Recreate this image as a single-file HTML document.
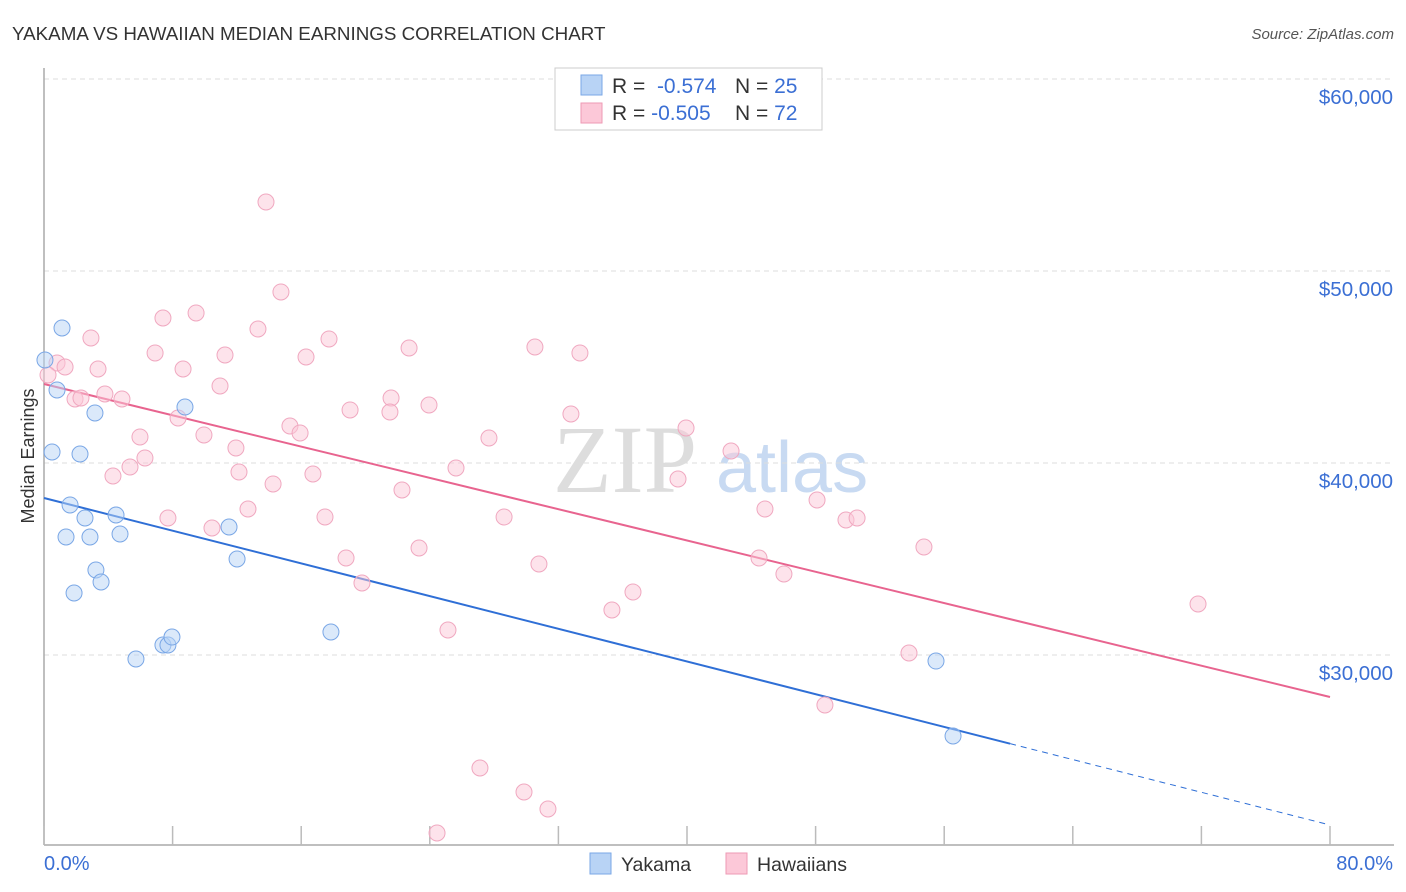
<!DOCTYPE html>
<html><head><meta charset="utf-8"><style>
body{margin:0;background:#fff;width:1406px;height:892px;overflow:hidden;font-family:"Liberation Sans",sans-serif}
svg{position:absolute;left:0;top:0}
</style></head><body>
<svg width="1406" height="892" id="chart">
<text x="12" y="40" font-size="18.8" fill="#333">YAKAMA VS HAWAIIAN MEDIAN EARNINGS CORRELATION CHART</text>
<text x="1394" y="39" font-size="15" fill="#555" font-style="italic" text-anchor="end">Source: ZipAtlas.com</text>
<text transform="translate(34,456) rotate(-90)" font-size="18" fill="#333" text-anchor="middle">Median Earnings</text>
<g>
<text x="553" y="492" font-size="96" font-family="Liberation Serif" fill="#ddd">ZIP</text>
<text x="716" y="492" font-size="72" fill="#c8daf2">atlas</text>
</g>
<g id="grid"></g><g id="axes"></g><g id="lines"></g><g id="pts"></g>
<g>
<rect x="555" y="68" width="267" height="62" fill="#fff" stroke="#ccc"/>
<rect x="581" y="75" width="21" height="20" fill="#b8d3f5" stroke="#7aa7e6"/>
<rect x="581" y="103" width="21" height="20" fill="#fcc8d8" stroke="#ee9ab4"/>
<text x="612" y="93" font-size="21" fill="#333">R = <tspan fill="#3b6fd4">&#160;-0.574</tspan><tspan x="735">N = </tspan><tspan fill="#3b6fd4">25</tspan></text>
<text x="612" y="120" font-size="21" fill="#333">R = <tspan fill="#3b6fd4">-0.505</tspan><tspan x="735">N = </tspan><tspan fill="#3b6fd4">72</tspan></text>
</g>
<g>
<rect x="590" y="853" width="21" height="21" fill="#b8d3f5" stroke="#7aa7e6"/>
<text x="621" y="871" font-size="19.5" fill="#333">Yakama</text>
<rect x="726" y="853" width="21" height="21" fill="#fcc8d8" stroke="#ee9ab4"/>
<text x="757" y="871" font-size="19.5" fill="#333">Hawaiians</text>
</g>
<text x="44" y="870" font-size="20" fill="#3b6fd4">0.0%</text>
<text x="1393" y="870" font-size="20" fill="#3b6fd4" text-anchor="end">80.0%</text>
</svg>
<script>
const yTicks=[60000,50000,40000,30000];
const yTickLabels=["$60,000","$50,000","$40,000","$30,000"];
const xTicks=[0,8,16,24,32,40,48,56,64,72,80];
const yakamaX=[0.06,1.12,0.81,3.17,0.5,2.24,1.62,2.55,4.48,1.37,2.86,4.73,3.23,3.55,1.87,5.72,7.4,7.71,7.96,8.77,11.51,12.01,17.85,55.49,56.55];
const yakamaY=[45365,47031,43802,42604,40573,40469,37813,37135,37292,36146,36146,36302,34427,33802,33229,29792,30521,30521,30937,42917,36667,35000,31198,29687,25781];
const hawX=[13.81,14.74,9.46,7.40,13.31,2.92,17.73,6.91,11.26,16.30,22.71,30.54,33.34,0.81,1.31,3.36,8.65,10.95,3.79,4.85,1.93,2.30,21.59,19.04,21.52,23.95,32.78,8.34,9.95,5.97,15.30,15.93,27.68,39.94,11.94,42.74,6.28,5.35,4.29,12.13,16.73,25.63,14.25,22.27,39.44,48.09,44.85,12.69,7.71,17.48,28.62,10.45,49.89,50.58,54.74,23.33,18.79,30.79,44.48,46.03,19.78,36.64,35.33,71.79,25.13,53.81,48.58,27.12,29.86,31.35,24.45,0.25];
const hawY=[53594,48907,47813,47552,46979,46511,46459,45730,45625,45521,45990,46042,45730,45209,45000,44896,44896,44011,43594,43333,43333,43385,43385,42761,42656,43021,42552,42344,41459,41355,41927,41563,41302,41823,40781,40625,40261,39792,39323,39531,39427,39740,38907,38594,39167,38073,37604,37604,37135,37188,37188,36615,37031,37135,35625,35573,35052,34740,35052,34219,33750,33281,32344,32656,31302,30104,27396,24115,22865,21979,20729,44584];
const yakamaTrend=[38177,21146];
const yakamaSolidEnd=60.1;
const hawTrend=[44115,27813];

const NS="http://www.w3.org/2000/svg";
const X=v=>44+v*16.075;
const Y=v=>79+(60000-v)*0.0192;
function mk(tag,at,parent){const e=document.createElementNS(NS,tag);for(const k in at)e.setAttribute(k,at[k]);document.getElementById(parent).appendChild(e);return e;}
yTicks.forEach((t,i)=>{
 const l=mk('line',{x1:44,x2:1394,y1:Y(t),y2:Y(t),stroke:'#ddd','stroke-dasharray':'5,4'},'grid');
 
 
 const tx=mk('text',{x:1393,y:Y(t)+25,'font-size':20.5,fill:'#3b6fd4','text-anchor':'end'},'grid');
 tx.textContent=yTickLabels[i];
 
 
});
const ax=mk('line',{x1:44,x2:44,y1:68,y2:845,stroke:'#aaa','stroke-width':1.5},'axes');


const bx=mk('line',{x1:44,x2:1394,y1:845,y2:845,stroke:'#aaa','stroke-width':1.5},'axes');


xTicks.forEach(t=>{
 const l=mk('line',{x1:X(t),x2:X(t),y1:826,y2:845,stroke:'#bbb','stroke-width':1.5},'axes');
 
 
});
function pts(xs,ys,fill,stroke,name){xs.forEach((x,i)=>{
 const c=mk('circle',{cx:X(x),cy:Y(ys[i]),r:8,fill:fill,'fill-opacity':0.5,stroke:stroke,'stroke-width':1},'pts');
 
 
});}
pts(hawX,hawY,'#fcc8d8','#f0a8c0','hawaiians-point');
pts(yakamaX,yakamaY,'#b8d3f5','#7aa7e6','yakama-point');
const yv=x=>yakamaTrend[0]+(yakamaTrend[1]-yakamaTrend[0])*x/80;
const l1=mk('line',{x1:X(0),y1:Y(yakamaTrend[0]),x2:X(yakamaSolidEnd),y2:Y(yv(yakamaSolidEnd)),stroke:'#2f6fd6','stroke-width':2},'lines');


const l2=mk('line',{x1:X(yakamaSolidEnd),y1:Y(yv(yakamaSolidEnd)),x2:X(80),y2:Y(yakamaTrend[1]),stroke:'#2f6fd6','stroke-width':1,'stroke-dasharray':'6,5'},'lines');


const l3=mk('line',{x1:X(0),y1:Y(hawTrend[0]),x2:X(80),y2:Y(hawTrend[1]),stroke:'#e8648f','stroke-width':2},'lines');


</script>
</body></html>
